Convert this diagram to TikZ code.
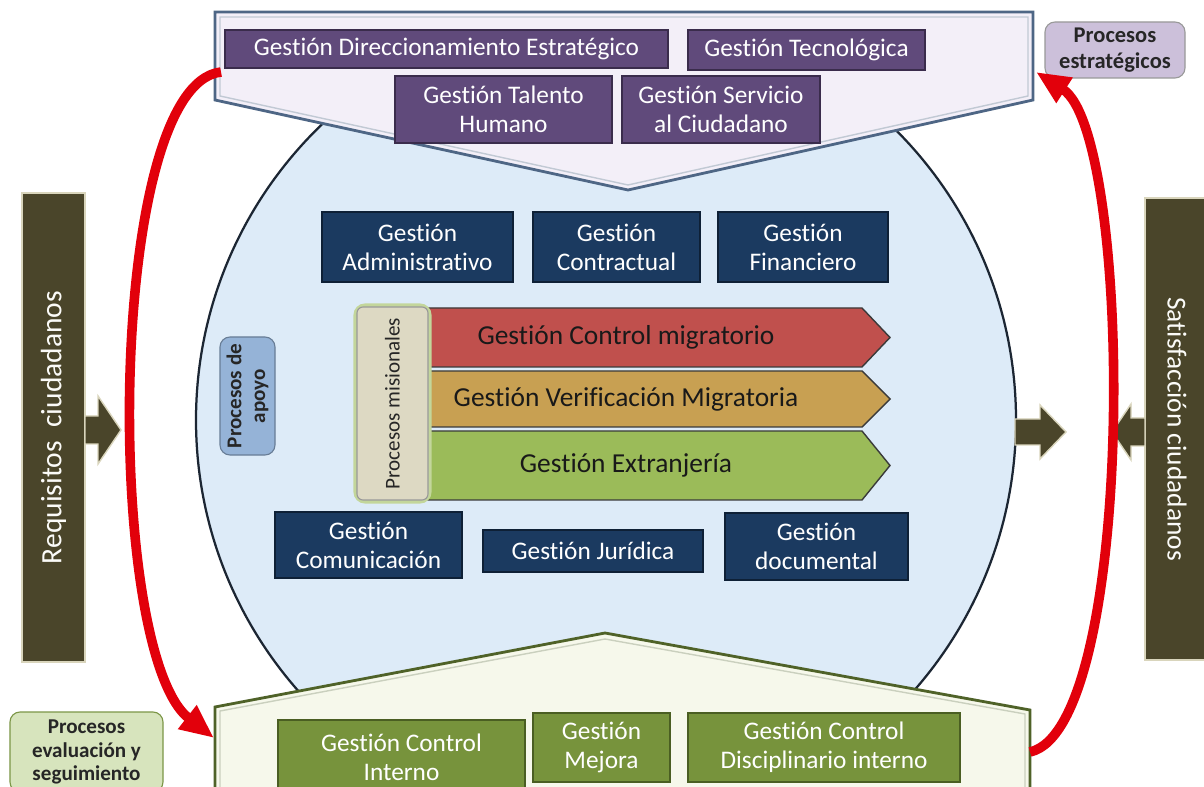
\documentclass[tikz,border=0pt]{standalone}
\usepackage{fontspec}
\setmainfont{Carlito}[Ligatures=NoCommon]
\usetikzlibrary{arrows.meta}

\definecolor{stratfill}{HTML}{F3EFF8}
\definecolor{stratline}{HTML}{4E6685}
\definecolor{purplefill}{HTML}{604A7B}
\definecolor{purpleline}{HTML}{3A2C4C}
\definecolor{bluefill}{HTML}{1B3A60}
\definecolor{blueline}{HTML}{0E2036}
\definecolor{greenfill}{HTML}{77933C}
\definecolor{greenline}{HTML}{4A5E22}
\definecolor{corefill}{HTML}{DDEBF8}
\definecolor{coreline}{HTML}{1C2633}
\definecolor{evalfill}{HTML}{F6F8EB}
\definecolor{evalline}{HTML}{4F6228}
\definecolor{barfill}{HTML}{4A452A}
\definecolor{barline}{HTML}{D9D5BC}
\definecolor{chevred}{HTML}{C0504D}
\definecolor{chevtan}{HTML}{C8A052}
\definecolor{chevgreen}{HTML}{9BBB59}
\definecolor{chevline}{HTML}{3A3A3A}
\definecolor{mainred}{HTML}{E2000B}
\definecolor{estfill}{HTML}{CCC0DA}
\definecolor{evaltag}{HTML}{D7E4BD}
\definecolor{apoyofill}{HTML}{95B3D7}
\definecolor{misfill}{HTML}{DDD9C3}

\begin{document}
\begin{tikzpicture}[x=0.25mm, y=-0.25mm, font=\fontsize{18}{20.5}\selectfont,
  purplebox/.style={draw=purpleline, fill=purplefill, text=white, align=center, inner sep=0pt, line width=1.2pt},
  bluebox/.style={draw=blueline, fill=bluefill, text=white, align=center, inner sep=0pt, line width=1.2pt},
  greenbox/.style={draw=greenline, fill=greenfill, text=white, align=center, inner sep=0pt, line width=1.2pt},
  tagbox/.style={rounded corners=2.5mm, align=center, inner sep=0pt, text=black!85, line width=0.8pt,
    font=\fontsize{15}{17}\selectfont\bfseries},
  barbox/.style={draw=barline, fill=barfill, text=white!90!barline, inner sep=0pt, line width=1pt,
    font=\fontsize{21}{24}\selectfont},
  blockarrow/.style={fill=barfill, draw=barline, line width=1pt},
  chevtext/.style={text=black!90, font=\fontsize{19.5}{22}\selectfont},
  redarrow/.style={draw=mainred, line width=2.4mm, -{Triangle[length=8.5mm,width=7mm]}}]
  \clip (0,0) rectangle (1204,787);
  \fill[white] (0,0) rectangle (1204,787);

  % core: support processes
  \begin{scope}
    \clip (0,90) rectangle (1204,787);
    \draw[fill=corefill, draw=coreline, line width=1.6pt] (606,420) circle [radius=410];
  \end{scope}

  % strategic processes
  \draw[fill=stratfill, draw=stratline, line width=2pt]
    (215,12) -- (1033,12) -- (1033,100) -- (628,190) -- (215,100) -- cycle;
  \draw[stratline!35, line width=1pt]
    (220,17) -- (1028,17) -- (1028,96) -- (628,185) -- (220,96) -- cycle;
  \node[purplebox, minimum width=110.75mm, minimum height=9.5mm] (dirEst) at (446.5,49)
    {Gestión Direccionamiento Estratégico};
  \node[purplebox, minimum width=59.25mm, minimum height=10mm] (tecno) at (806.5,50)
    {Gestión Tecnológica};
  \node[purplebox, minimum width=54.25mm, minimum height=16.75mm] (talento) at (503.5,109.5)
    {Gestión Talento\\Humano};
  \node[purplebox, minimum width=49.5mm, minimum height=16.75mm] (servicio) at (721,109.5)
    {Gestión Servicio\\al Ciudadano};
  \node[tagbox, draw=black!40, fill=estfill, font=\fontsize{16}{18}\selectfont\bfseries,
    minimum width=35mm, minimum height=14mm] (procEst) at (1115,50) {Procesos\\estratégicos};

  % evaluation processes
  \draw[fill=evalfill, draw=evalline, line width=2pt]
    (215,800) -- (215,707) -- (605,633) -- (1030,710) -- (1030,800);
  \draw[evalline!30, line width=1pt]
    (220,800) -- (220,711) -- (605,639) -- (1025,714) -- (1025,800);
  \node[greenbox, minimum width=61.75mm, minimum height=18.75mm] (ctrlInt) at (401.5,757.5)
    {Gestión Control\\Interno};
  \node[greenbox, minimum width=34.25mm, minimum height=17.25mm] (mejora) at (601.5,747.5)
    {Gestión\\Mejora};
  \node[greenbox, minimum width=68mm, minimum height=17.25mm] (discInt) at (824,747.5)
    {Gestión Control\\Disciplinario interno};
  \node[tagbox, draw=chevgreen!80!black, fill=evaltag, minimum width=38.25mm, minimum height=20mm] (procEval)
    at (86.5,752) {Procesos\\evaluación y\\seguimiento};

  % support boxes
  \node[bluebox, minimum width=47.75mm, minimum height=17.5mm] (admin) at (417.5,247)
    {Gestión\\Administrativo};
  \node[bluebox, minimum width=41.75mm, minimum height=17.5mm] (contract) at (616.5,247)
    {Gestión\\Contractual};
  \node[bluebox, minimum width=42.5mm, minimum height=17.5mm] (financ) at (803,247)
    {Gestión\\Financiero};
  \node[bluebox, minimum width=46.75mm, minimum height=16.5mm] (comunic) at (368.5,545)
    {Gestión\\Comunicación};
  \node[bluebox, minimum width=55mm, minimum height=10.5mm] (juridica) at (593,551)
    {Gestión Jurídica};
  \node[bluebox, minimum width=45.75mm, minimum height=16.75mm] (document) at (816.5,546.5)
    {Gestión\\documental};
  \node[tagbox, draw=apoyofill!70!black, fill=apoyofill, rotate=90, font=\fontsize{15}{17}\selectfont\bfseries,
    minimum width=29.5mm, minimum height=13.75mm] (procApoyo) at (247.5,396) {Procesos de\\apoyo};

  % mission processes
  \draw[fill=chevred, draw=chevline, line width=1pt]
    (420,308) -- (862,308) -- (890,337.5) -- (862,367) -- (420,367) -- cycle;
  \node[chevtext] (ctrlMig) at (626,337.5) {Gestión Control migratorio};
  \draw[fill=chevtan, draw=chevline, line width=1pt]
    (420,371) -- (862,371) -- (890,399) -- (862,427) -- (420,427) -- cycle;
  \node[chevtext] (verifMig) at (626,399) {Gestión Verificación Migratoria};
  \draw[fill=chevgreen, draw=chevline, line width=1pt]
    (420,431) -- (862,431) -- (890,465.5) -- (862,500) -- (420,500) -- cycle;
  \node[chevtext] (extranj) at (626,465.5) {Gestión Extranjería};
  \draw[chevgreen!60, line width=5pt, rounded corners=2mm] (357,307) rectangle (428,500);
  \node[tagbox, draw=black!40, fill=misfill, rotate=90, rounded corners=1.5mm, font=\fontsize{15}{17}\selectfont,
    minimum width=48.25mm, minimum height=17.75mm] (procMis) at (392.5,403.5) {Procesos misionales};

  % citizens
  \node[barbox, rotate=90, minimum width=117.25mm, minimum height=15.75mm] (requis) at (53.5,427.5)
    {Requisitos\ \ ciudadanos};
  \node[barbox, rotate=-90, font=\fontsize{19.5}{24}\selectfont, minimum width=115.5mm, minimum height=16mm]
    (satisf) at (1177,429) {Satisfacción ciudadanos};
  \draw[blockarrow] (85,416) -- (98,416) -- (98,396) -- (121,430) -- (98,464) -- (98,444) -- (85,444) -- cycle;
  \draw[blockarrow] (1015,419) -- (1040,419) -- (1040,405) -- (1066,432) -- (1040,459) -- (1040,445) -- (1015,445) -- cycle;
  \draw[blockarrow] (1145,418) -- (1131,418) -- (1131,404) -- (1112,432) -- (1131,460) -- (1131,446) -- (1145,446) -- cycle;

  % cycle arrows
  \coordinate (stratL) at (221,72);
  \coordinate (evalL) at (214,738);
  \coordinate (evalR) at (1030,752);
  \coordinate (stratR) at (1036,72);
  \draw[redarrow] (stratL) .. controls (106,85) and (104,652) .. (evalL);
  \draw[redarrow] (evalR) .. controls (1137,728) and (1134,135) .. (stratR);
\end{tikzpicture}
\end{document}
